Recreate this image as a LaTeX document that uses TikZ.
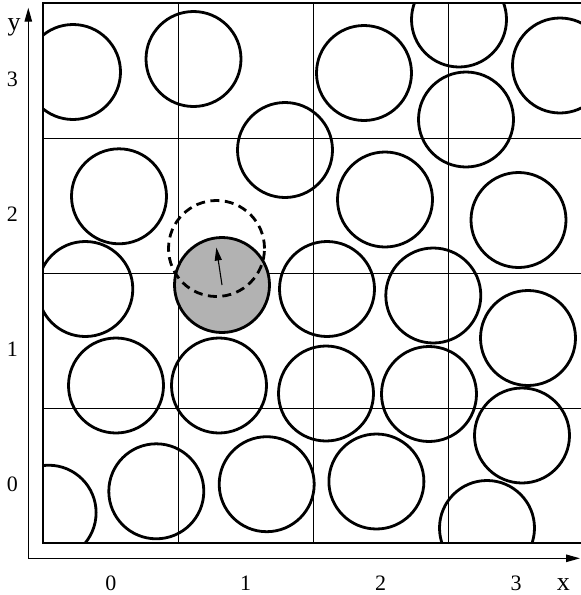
\documentclass[tikz,border=0pt]{standalone}
\usepackage{fontspec}
\setmainfont{Liberation Serif}
\usetikzlibrary{arrows.meta}
\tikzset{
  disc/.style={circle, draw=black, line width=2.8pt, minimum size=95pt, inner sep=0pt},
  graydisc/.style={disc, fill=black!30},
  dashdisc/.style={circle, draw=black, line width=2.8pt, minimum size=96pt, inner sep=0pt, dash pattern=on 9pt off 5.5pt},
  gridline/.style={line width=0.8pt},
  frameline/.style={line width=1.2pt},
  axisline/.style={line width=1.2pt, -{Triangle[length=14pt,width=7.5pt]}},
  movearrow/.style={line width=1.1pt, -{Triangle[length=13pt,width=7pt]}, shorten >=-1pt},
  numlbl/.style={font=\fontsize{22}{26}\selectfont, anchor=base, inner sep=0pt},
  axlbl/.style={font=\fontsize{26}{30}\selectfont, anchor=base, inner sep=0pt},
}
\begin{document}
\begin{tikzpicture}[x=1pt,y=-1pt]
\clip (0,0) rectangle (581,595);
% grid
\draw[gridline] (178,3) -- (178,543) (313,3) -- (313,543) (448,3) -- (448,543);
\draw[gridline] (43,138) -- (583,138) (43,273) -- (583,273) (43,408) -- (583,408);
\draw[frameline] (43,3) rectangle (583,543);
% discs
\begin{scope}
\clip (43,3) rectangle (583,543);
\node[disc] (c1) at (73,72) {};
\node[disc] (c2) at (193.5,59) {};
\node[disc] (c3) at (285,150) {};
\node[disc] (c4) at (364,73) {};
\node[disc] (c5) at (385,199.5) {};
\node[disc] (c6) at (459,19.5) {};
\node[disc] (c7) at (560,65.5) {};
\node[disc] (c8) at (466,119.5) {};
\node[disc] (c9) at (518.5,220) {};
\node[disc] (c10) at (119,196.3) {};
\node[disc] (c11) at (85.3,289) {};
\node[disc] (c12) at (116,385.5) {};
\node[disc] (c14) at (327,289) {};
\node[disc] (c15) at (219,385.5) {};
\node[disc] (c16) at (326,393.5) {};
\node[disc] (c17) at (433.3,295.5) {};
\node[disc] (c18) at (528,338) {};
\node[disc] (c19) at (429,394) {};
\node[disc] (c20) at (522,435.5) {};
\node[disc] (c21) at (487,528) {};
\node[disc] (c22) at (156.3,491.3) {};
\node[disc] (c23) at (48.6,512.7) {};
\node[disc] (c24) at (266.7,484.2) {};
\node[disc] (c25) at (376.4,481.5) {};
\node[graydisc] (g) at (222,285) {};
\node[dashdisc] (d) at (216.5,248.5) {};
\end{scope}
\draw[movearrow] (g.center) -- (d.center);
% axes
\coordinate (o) at (28.3,558.3);
\coordinate (yend) at (28.3,7.7);
\coordinate (xend) at (580,558.3);
\draw[axisline] (o) -- (yend);
\draw[axisline] (o) -- (xend);
% labels
\node[axlbl] (ly) at (14.2,30) {y};
\node[axlbl] (lx) at (563.3,590) {x};
\node[numlbl] (bx0) at (110.8,590) {0};
\node[numlbl] (bx1) at (245.5,590) {1};
\node[numlbl] (bx2) at (380.5,590) {2};
\node[numlbl] (bx3) at (516,590) {3};
\node[numlbl] (ly3) at (12.3,86.7) {3};
\node[numlbl] (ly2) at (12.3,221.7) {2};
\node[numlbl] (ly1) at (12.3,356.7) {1};
\node[numlbl] (ly0) at (12.3,491.7) {0};
\end{tikzpicture}
\end{document}
